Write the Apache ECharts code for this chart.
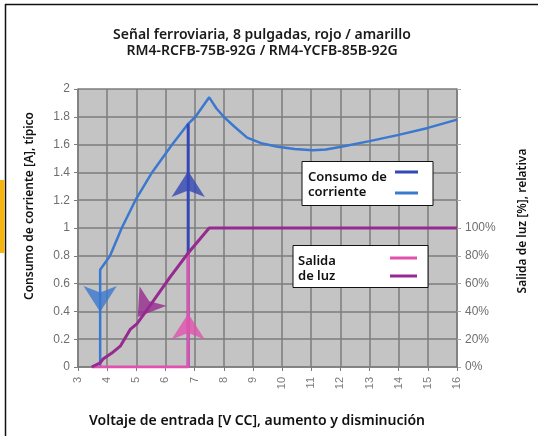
<!DOCTYPE html>
<html>
<head>
<meta charset="utf-8">
<script src="https://cdn.jsdelivr.net/npm/echarts@6/dist/echarts.min.js"></script>
<style>
  html, body { margin: 0; padding: 0; background: #fff; }
  #chart { width: 538px; height: 436px; }
</style>
</head>
<body>
<div id="chart"></div>
<script>
// Voltaje de entrada (x) -> consumo de corriente (A)
const currentX = [3.76, 3.76, 4.1, 4.5, 4.97, 5.54, 6.23, 6.78, 7.03, 7.5, 7.75, 8.0, 8.36, 8.8, 9.28, 9.85, 10.43, 11.06, 11.5, 12.03, 13.0, 14.0, 15.0, 16.0]
const currentY = [0, 0.70, 0.80, 1.0, 1.2, 1.4, 1.6, 1.75, 1.8, 1.94, 1.86, 1.80, 1.73, 1.65, 1.61, 1.585, 1.568, 1.56, 1.565, 1.585, 1.625, 1.67, 1.72, 1.78]
// subida: corriente salta a 6,78 V
const riseX = [6.78, 6.78]
const riseY = [0, 1.75]
// salida de luz, aumento
const lightUpX = [3.47, 6.78, 6.78]
const lightUpY = [0, 0, 0.82]
// salida de luz, disminución
const lightDownX = [16, 7.5, 6.78, 6.17, 5.5, 5.02, 4.79, 4.45, 4.16, 3.87, 3.76, 3.47]
const lightDownY = [1.0, 1.0, 0.82, 0.65, 0.45, 0.31, 0.27, 0.15, 0.1, 0.06, 0.03, 0]
// flechas: [x, y, giro]
const arrowCurrentDown = [3.76, 0.395, 180]
const arrowCurrentUp = [6.78, 1.41, 0]
const arrowLightUp = [6.78, 0.385, 0]
const arrowLightDown = [5.05, 0.36, 144]

const xTicks = [3, 16, 1]
const yTicks = [0, 2, 0.2]

const pairs = (xs, ys) => xs.map((x, i) => [x, ys[i]])

const C_BLUE = '#3b78cf'
const C_DBLUE = '#3347b5'
const C_PINK = '#e052ae'
const C_PURPLE = '#962a8e'
const GRIDC = '#7d7d7d'

const lineSeries = (name, data, color, width) => ({
  name: name,
  type: 'line',
  data: data,
  symbol: 'none',
  lineStyle: { color: color, width: width },
  silent: true,
  animation: false
})

const arrowSeries = (a, color) => ({
  type: 'scatter',
  data: [[a[0], a[1]]],
  symbol: 'arrow',
  symbolSize: [25, 26],
  symbolRotate: a[2],
  itemStyle: { color: color },
  silent: true,
  animation: false,
  z: 5
})

const chart = echarts.init(document.getElementById('chart'))

const option = {
  backgroundColor: '#fff',
  animation: false,
  title: {
    text: 'Señal ferroviaria, 8 pulgadas, rojo / amarillo\nRM4-RCFB-75B-92G / RM4-YCFB-85B-92G',
    left: 257,
    top: 22,
    textAlign: 'center',
    textStyle: {
      fontFamily: 'Noto Sans',
      fontSize: 14,
      fontWeight: 600,
      color: '#1a1a1a',
      lineHeight: 16
    }
  },
  grid: {
    left: 78,
    right: 81,
    top: 89,
    bottom: 69,
    show: true,
    backgroundColor: '#c4c4c4',
    borderWidth: 0
  },
  xAxis: {
    type: 'value',
    min: xTicks[0],
    max: xTicks[1],
    interval: xTicks[2],
    axisLine: { show: true, onZero: false, lineStyle: { color: GRIDC, width: 1.5 } },
    axisTick: { show: true, length: 4, lineStyle: { color: GRIDC } },
    axisLabel: { rotate: 90, margin: 10, color: '#7a7a7a', fontSize: 11, fontFamily: 'Liberation Sans' },
    splitLine: { show: true, lineStyle: { color: GRIDC, width: 1.5 } }
  },
  yAxis: [
    {
      type: 'value',
      min: yTicks[0],
      max: yTicks[1],
      interval: yTicks[2],
      axisLine: { show: true, lineStyle: { color: GRIDC, width: 1.5 } },
      axisTick: { show: true, length: 4, lineStyle: { color: GRIDC } },
      axisLabel: { margin: 8, color: '#6e6e6e', fontSize: 12, fontFamily: 'Liberation Sans' },
      splitLine: { show: true, lineStyle: { color: GRIDC, width: 1.5 } }
    },
    {
      type: 'value',
      min: yTicks[0],
      max: yTicks[1],
      interval: yTicks[2],
      position: 'right',
      axisLine: { show: true, lineStyle: { color: GRIDC, width: 1.5 } },
      axisTick: { show: true, length: 4, lineStyle: { color: '#aaa' } },
      axisLabel: {
        margin: 8,
        color: '#6e6e6e',
        fontSize: 12,
        fontFamily: 'Liberation Sans',
        formatter: v => v <= 1.0001 ? Math.round(v * 100) + '%' : ''
      },
      splitLine: { show: false }
    }
  ],
  series: [
    lineSeries('Consumo de corriente', pairs(currentX, currentY), C_BLUE, 2.5),
    lineSeries('Consumo de corriente (aumento)', pairs(riseX, riseY), C_DBLUE, 3),
    lineSeries('Salida de luz (aumento)', pairs(lightUpX, lightUpY), C_PINK, 3),
    lineSeries('Salida de luz', pairs(lightDownX, lightDownY), C_PURPLE, 3),
    arrowSeries(arrowCurrentDown, C_BLUE),
    arrowSeries(arrowCurrentUp, C_DBLUE),
    arrowSeries(arrowLightUp, C_PINK),
    arrowSeries(arrowLightDown, C_PURPLE)
  ],
  graphic: [
    // marco y pestaña
    { type: 'line', shape: { x1: 5, y1: 4.5, x2: 538, y2: 4.5 }, style: { stroke: '#111', lineWidth: 1.5 } },
    { type: 'line', shape: { x1: 5.5, y1: 4, x2: 5.5, y2: 436 }, style: { stroke: '#111', lineWidth: 1.5 } },
    { type: 'rect', shape: { x: 0, y: 180, width: 4.5, height: 73 }, style: { fill: '#f6b40e' } },
    // nombres de ejes
    {
      type: 'text', x: 30, y: 206, rotation: Math.PI / 2,
      style: { text: 'Consumo de corriente [A], típico', align: 'center', verticalAlign: 'middle', fontFamily: 'Noto Sans', fontSize: 12, fontWeight: 600, fill: '#111' }
    },
    {
      type: 'text', x: 523, y: 221, rotation: Math.PI / 2,
      style: { text: 'Salida de luz [%], relativa', align: 'center', verticalAlign: 'middle', fontFamily: 'Noto Sans', fontSize: 12, fontWeight: 600, fill: '#111' }
    },
    {
      type: 'text', x: 257, y: 421,
      style: { text: 'Voltaje de entrada [V CC], aumento y disminución', align: 'center', verticalAlign: 'middle', fontFamily: 'Noto Sans', fontSize: 14, fontWeight: 600, fill: '#111' }
    },
    // leyenda: consumo de corriente
    { type: 'rect', z: 10, shape: { x: 302, y: 161.5, width: 131, height: 44 }, style: { fill: '#fff', stroke: '#111', lineWidth: 1 } },
    { type: 'text', z: 11, x: 308, y: 185, style: { text: 'Consumo de\ncorriente', verticalAlign: 'middle', lineHeight: 15, fontFamily: 'Noto Sans', fontSize: 13, fontWeight: 600, fill: '#111' } },
    { type: 'line', z: 11, shape: { x1: 395, y1: 172, x2: 418, y2: 172 }, style: { stroke: C_DBLUE, lineWidth: 3 } },
    { type: 'line', z: 11, shape: { x1: 395, y1: 193, x2: 418, y2: 193 }, style: { stroke: C_BLUE, lineWidth: 3 } },
    // leyenda: salida de luz
    { type: 'rect', z: 10, shape: { x: 293, y: 245.5, width: 135, height: 42 }, style: { fill: '#fff', stroke: '#111', lineWidth: 1 } },
    { type: 'text', z: 11, x: 298, y: 269, style: { text: 'Salida\nde luz', verticalAlign: 'middle', lineHeight: 15, fontFamily: 'Noto Sans', fontSize: 13, fontWeight: 600, fill: '#111' } },
    { type: 'line', z: 11, shape: { x1: 390, y1: 258, x2: 417, y2: 258 }, style: { stroke: C_PINK, lineWidth: 3 } },
    { type: 'line', z: 11, shape: { x1: 390, y1: 276, x2: 417, y2: 276 }, style: { stroke: C_PURPLE, lineWidth: 3 } }
  ]
}

chart.setOption(option)
</script>
</body>
</html>
